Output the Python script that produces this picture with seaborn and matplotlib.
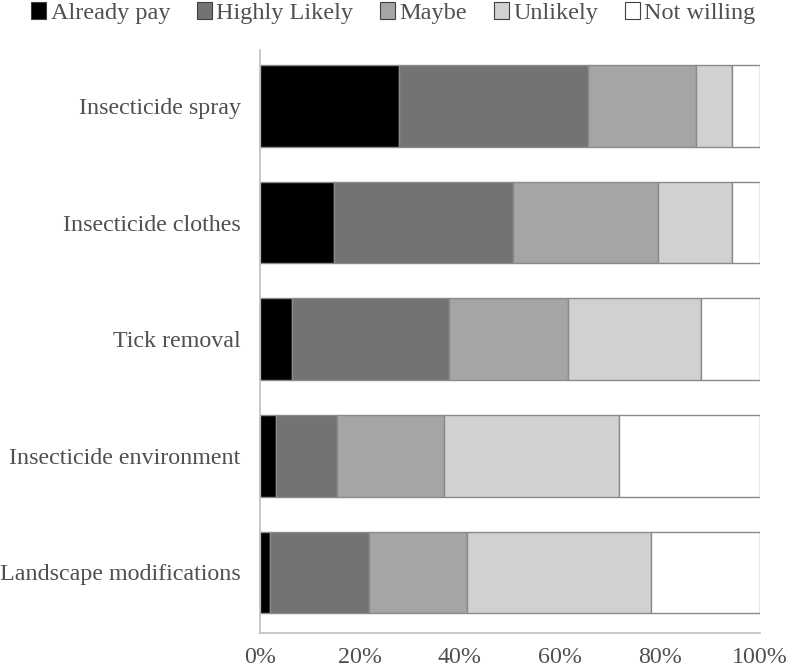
import matplotlib
matplotlib.use("Agg")
import matplotlib.pyplot as plt
import seaborn as sns
import pandas as pd
import numpy as np

categories = ["Insecticide spray", "Insecticide clothes", "Tick removal",
              "Insecticide environment", "Landscape modifications"]
series = ["Already pay", "Highly Likely", "Maybe", "Unlikely", "Not willing"]
already_pay = [27.7, 14.8, 6.3, 3.1, 1.9]
highly_likely = [37.8, 35.7, 31.4, 12.2, 19.8]
maybe = [21.6, 29.0, 23.8, 21.5, 19.6]
unlikely = [7.3, 14.9, 26.6, 34.9, 36.9]
not_willing = [5.6, 5.6, 11.9, 28.3, 21.8]
colors = ["#000000", "#737373", "#a5a5a5", "#d2d0d0", "#ffffff"]

sns.set_theme(style="white")
plt.rcParams['font.family'] = ['Liberation Serif', 'DejaVu Serif']

df = pd.DataFrame({"category": categories, "Already pay": already_pay,
                   "Highly Likely": highly_likely, "Maybe": maybe,
                   "Unlikely": unlikely, "Not willing": not_willing})

fig = plt.figure(figsize=(7.87, 6.70), dpi=100)
ax = fig.add_axes([260/787, 1-633/670, 500/787, (633-50)/670])

left = np.zeros(len(categories))
for s, c in zip(series, colors):
    vals = df[s].values
    sns.barplot(x=vals, y=df["category"], orient="h", color=c, ax=ax,
                left=left, width=0.70, edgecolor="#8a8a8a", linewidth=1.0,
                label=s, saturation=1)
    left = left + vals

handles, labels = ax.get_legend_handles_labels()
if ax.get_legend() is not None:
    ax.get_legend().remove()

ax.set_xlim(0, 100)
ax.set_ylim(4.52, -0.48)
ax.set_xticks([0, 20, 40, 60, 80, 100])
ax.set_xticklabels(["0%", "20%", "40%", "60%", "80%", "100%"])
ax.set_xlabel("")
ax.set_ylabel("")
ax.tick_params(axis="both", length=0, labelsize=17.3, colors="#505050")
ax.tick_params(axis="x", pad=10)
ax.tick_params(axis="y", pad=14)
for sp in ["top", "right"]:
    ax.spines[sp].set_visible(False)
for sp in ["left", "bottom"]:
    ax.spines[sp].set_color("#bfbfbf")
    ax.spines[sp].set_linewidth(1.2)

leg = fig.legend(handles, labels, loc="upper center",
                 bbox_to_anchor=(0.5, 1.03), ncol=5, frameon=False,
                 fontsize=17.5, handlelength=0.6, handleheight=0.7,
                 handletextpad=0.2, columnspacing=1.1, labelcolor="#505050")
for h in leg.legend_handles:
    h.set_edgecolor("#404040")
    h.set_linewidth(0.8)

fig.savefig("out.png", dpi=100)
